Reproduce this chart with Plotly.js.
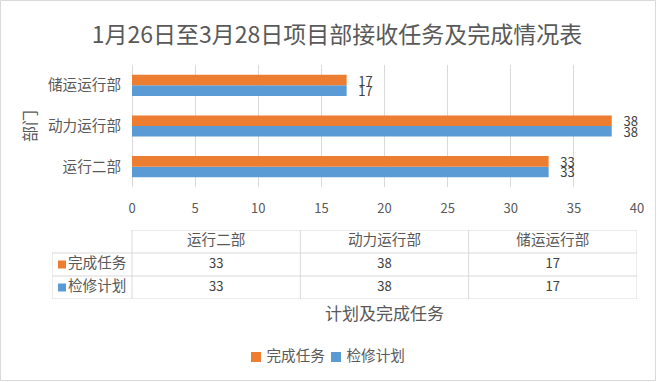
<!DOCTYPE html>
<html>
<head>
<meta charset="utf-8">
<script src="https://cdn.plot.ly/plotly-3.0.1.min.js"></script>
<style>html,body{margin:0;padding:0;background:#fff;}#chart{width:657px;height:382px;}</style>
</head>
<body>
<div id="chart"></div>
<script>
// ---- data ----
const categories = ['运行二部', '动力运行部', '储运运行部'];
const completed = [33, 38, 17];
const planned = [33, 38, 17];
const seriesNames = ['完成任务', '检修计划'];
const chartTitle = '1月26日至3月28日项目部接收任务及完成情况表';
const yTitle = '部门';
const xTitle = '计划及完成任务';
const xRange = [0, 40];

// ---- styles / geometry ----
const FONT = '"Noto Sans CJK SC", "Microsoft YaHei", sans-serif';
const ORANGE = '#ED7D31', BLUE = '#5B9BD5', GRID = '#d9d9d9', TXT = '#595959', TXT2 = '#404040';
const W = 657, H = 382;
const M = {l: 52, r: 20, t: 65, b: 15};
const plotW = W - M.l - M.r, plotH = H - M.t - M.b;
const plotLeftPx = 132, plotBottomPx = 187, tableTopPx = 230, tableBottomPx = 299;
const legendYPx = 357;
const colW = (W - M.r - plotLeftPx) / categories.length;
const x2min = -0.5 - (plotLeftPx - M.l) / colW;
const labelX = x2min + 10 / colW;
const nRows = 3;
const py = p => (H - M.b - p) / plotH;
const px = p => (p - M.l) / plotW;
const x2 = p => x2min + (p - M.l) / colW;           // pixel -> x2 units
const LBL = 14.6;

const labelTpl = '\u00A0\u00A0\u00A0%{x}';
const traces = [
  {type: 'bar', orientation: 'h', y: categories, x: planned, name: seriesNames[1],
   marker: {color: BLUE}, text: planned, texttemplate: labelTpl, textposition: 'outside',
   constraintext: 'none', cliponaxis: false, textfont: {size: 13, color: TXT2, family: FONT},
   hoverinfo: 'x+name', xaxis: 'x', yaxis: 'y'},
  {type: 'bar', orientation: 'h', y: categories, x: completed, name: seriesNames[0],
   marker: {color: ORANGE}, text: completed, texttemplate: labelTpl, textposition: 'outside',
   constraintext: 'none', cliponaxis: false, textfont: {size: 13, color: TXT2, family: FONT},
   hoverinfo: 'x+name', xaxis: 'x', yaxis: 'y'},
  // table header
  {type: 'scatter', mode: 'text', x: categories.map((c, i) => i), y: categories.map(() => 2),
   text: categories, textfont: {size: LBL, color: TXT, family: FONT}, xaxis: 'x2', yaxis: 'y2',
   hoverinfo: 'skip', cliponaxis: false},
  // table rows
  {type: 'scatter', mode: 'text', x: categories.map((c, i) => i), y: categories.map(() => 1),
   text: completed.map(String), textfont: {size: 13, color: TXT2, family: FONT}, xaxis: 'x2', yaxis: 'y2',
   hoverinfo: 'skip', cliponaxis: false},
  {type: 'scatter', mode: 'text', x: categories.map((c, i) => i), y: categories.map(() => 0),
   text: planned.map(String), textfont: {size: 13, color: TXT2, family: FONT}, xaxis: 'x2', yaxis: 'y2',
   hoverinfo: 'skip', cliponaxis: false},
  // row labels with legend keys
  {type: 'scatter', mode: 'markers+text', x: [labelX, labelX], y: [1, 0], text: seriesNames,
   textposition: 'middle right', marker: {symbol: 'square', size: 8, color: [ORANGE, BLUE]},
   textfont: {size: LBL, color: TXT, family: FONT}, xaxis: 'x2', yaxis: 'y2',
   hoverinfo: 'skip', cliponaxis: false},
  // bottom legend
  {type: 'scatter', mode: 'markers+text', x: [x2(256), x2(336)], y: [0, 0],
   text: seriesNames.map(s => '\u00A0' + s), textposition: 'middle right',
   marker: {symbol: 'square', size: 10, color: [ORANGE, BLUE]},
   textfont: {size: LBL, color: TXT, family: FONT}, xaxis: 'x3', yaxis: 'y3',
   hoverinfo: 'skip', cliponaxis: false}
];

// table lines
const shapes = [];
const line = {color: GRID, width: 1};
shapes.push({type: 'line', xref: 'x2', yref: 'y2', x0: -0.5, x1: categories.length - 0.5, y0: nRows - 0.5, y1: nRows - 0.5, line});
for (let r = -0.5; r < nRows - 1; r += 1) {
  shapes.push({type: 'line', xref: 'x2', yref: 'y2', x0: x2min, x1: categories.length - 0.5, y0: r, y1: r, line});
}
shapes.push({type: 'line', xref: 'x2', yref: 'y2', x0: x2min, x1: x2min, y0: -0.5, y1: nRows - 1.5, line});
for (let c = -0.5; c <= categories.length - 0.5; c += 1) {
  shapes.push({type: 'line', xref: 'x2', yref: 'y2', x0: c, x1: c, y0: -0.5, y1: nRows - 0.5, line});
}
// outer frame
shapes.push({type: 'rect', xref: 'paper', yref: 'paper', x0: px(0.5), x1: px(W - 1.5), y0: py(H - 1.5), y1: py(0.5),
  line: {color: GRID, width: 1}, fillcolor: 'rgba(0,0,0,0)'});

const layout = {
  width: W, height: H,
  margin: {l: M.l, r: M.r, t: M.t, b: M.b, pad: 0},
  paper_bgcolor: '#fff', plot_bgcolor: '#fff',
  font: {family: FONT, color: TXT},
  title: {text: chartTitle, font: {size: 23, color: TXT, family: FONT}, xref: 'container', x: 0.513,
          yref: 'container', y: 1 - 35 / H, yanchor: 'middle'},
  barmode: 'group', bargap: 0.48, bargroupgap: 0,
  xaxis: {domain: [(plotLeftPx - M.l) / plotW, 1], range: xRange, dtick: 5, showgrid: true, gridcolor: GRID,
          zeroline: true, zerolinecolor: GRID, zerolinewidth: 1, showline: false, ticks: '',
          ticklabelstandoff: 12, tickfont: {size: 13, color: TXT, family: FONT}, anchor: 'y', fixedrange: true},
  yaxis: {domain: [py(plotBottomPx), 1], type: 'category', showgrid: false, zeroline: false, showline: false,
          ticks: '', ticklabelstandoff: 10, tickfont: {size: LBL, color: TXT, family: FONT}, anchor: 'x', fixedrange: true},
  xaxis2: {domain: [0, 1], range: [x2min, categories.length - 0.5], visible: false, anchor: 'y2', fixedrange: true},
  yaxis2: {domain: [py(tableBottomPx), py(tableTopPx)], range: [-0.5, nRows - 0.5], visible: false, anchor: 'x2', fixedrange: true},
  xaxis3: {domain: [0, 1], range: [x2min, categories.length - 0.5], visible: false, anchor: 'y3', fixedrange: true},
  yaxis3: {domain: [py(legendYPx + 10), py(legendYPx - 10)], range: [-0.5, 0.5], visible: false, anchor: 'x3', fixedrange: true},
  annotations: [
    {text: yTitle, textangle: -90, xref: 'paper', x: px(29), yref: 'y domain', y: 0.5,
     showarrow: false, font: {size: 16, color: TXT, family: FONT}, xanchor: 'center', yanchor: 'middle'},
    {text: xTitle, xref: 'x domain', x: 0.5, yref: 'paper', y: py(312), showarrow: false,
     font: {size: 17, color: TXT, family: FONT}, xanchor: 'center', yanchor: 'middle'}
  ],
  shapes: shapes,
  showlegend: false
};

Plotly.newPlot('chart', traces, layout, {displayModeBar: false});
</script>
</body>
</html>
